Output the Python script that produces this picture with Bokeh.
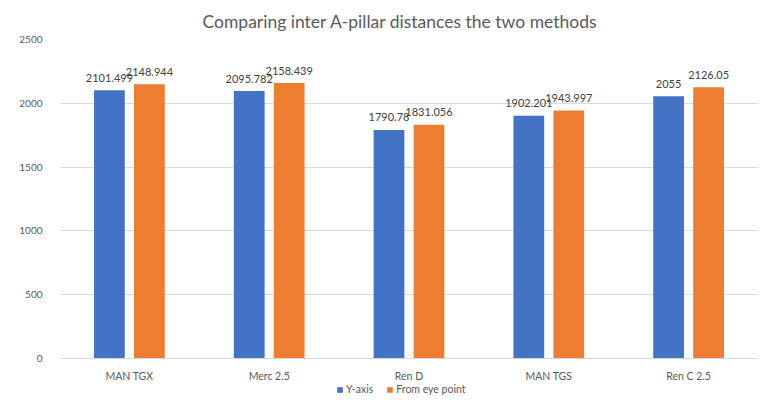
from bokeh.plotting import figure
from bokeh.layouts import column
from bokeh.models import ColumnDataSource, FactorRange, Range1d, FixedTicker, Legend, LegendItem
from bokeh.transform import dodge
from bokeh.core.properties import value
from bokeh.embed import file_html
from bokeh.resources import INLINE

categories = ["MAN TGX", "Merc 2.5", "Ren D", "MAN TGS", "Ren C 2.5"]
y_axis_vals = [2101.499, 2095.782, 1790.78, 1902.201, 2055]
eye_point_vals = [2148.944, 2158.439, 1831.056, 1943.997, 2126.05]
y_axis_labels = ["2101.499", "2095.782", "1790.78", "1902.201", "2055"]
eye_point_labels = ["2148.944", "2158.439", "1831.056", "1943.997", "2126.05"]
y_ticks = [0, 500, 1000, 1500, 2000, 2500]
title_text = "Comparing inter A-pillar distances the two methods"
series_names = ["Y-axis", "From eye point"]

FONT = "Lato"
BLUE = "#4472C4"
ORANGE = "#ED7D31"
GRID = "#D9D9D9"
TXT = "#595959"

src = ColumnDataSource(dict(cat=categories, ya=y_axis_vals, ep=eye_point_vals,
                            yal=y_axis_labels, epl=eye_point_labels))

p = figure(width=758, height=384, output_backend="svg", toolbar_location=None,
           x_range=FactorRange(*categories), y_range=Range1d(0, 2500),
           title=title_text,
           min_border_left=59, min_border_right=0, min_border_top=38, min_border_bottom=20)
p.outline_line_color = None
p.background_fill_color = "white"
p.border_fill_color = "white"

p.title.align = "left"
p.title.offset = 143
p.title.standoff = 16
p.title.text_font = FONT
p.title.text_font_style = "normal"
p.title.text_font_size = "17.5px"
p.title.text_color = TXT

p.vbar(x=dodge("cat", -0.143, range=p.x_range), top="ya", width=0.22, source=src,
       fill_color=BLUE, line_color=None)
p.vbar(x=dodge("cat", 0.143, range=p.x_range), top="ep", width=0.22, source=src,
       fill_color=ORANGE, line_color=None)

p.text(x=dodge("cat", -0.143, range=p.x_range), y="ya", text="yal", source=src,
       text_align="center", text_baseline="middle", y_offset=-12.5,
       text_font=value(FONT), text_font_size="11px", text_color="#404040")
p.text(x=dodge("cat", 0.143, range=p.x_range), y="ep", text="epl", source=src,
       text_align="center", text_baseline="middle", y_offset=-12.5,
       text_font=value(FONT), text_font_size="11px", text_color="#404040")

p.xgrid.grid_line_color = None
p.ygrid.grid_line_color = GRID
p.ygrid.grid_line_width = 1
p.yaxis.ticker = FixedTicker(ticks=y_ticks)
p.yaxis.axis_line_color = None
p.yaxis.major_tick_line_color = None
p.yaxis.minor_tick_line_color = None
p.yaxis.major_label_standoff = 11
p.yaxis.major_label_text_font = FONT
p.yaxis.major_label_text_font_size = "10px"
p.yaxis.major_label_text_color = TXT

p.xaxis.axis_line_color = GRID
p.xaxis.major_tick_line_color = None
p.xaxis.minor_tick_line_color = None
p.xaxis.major_label_standoff = 5
p.xaxis.major_label_text_font = FONT
p.xaxis.major_label_text_font_size = "10.5px"
p.xaxis.major_label_text_color = TXT

# legend strip below the chart
pl = figure(width=758, height=11, output_backend="svg", toolbar_location=None,
            x_range=Range1d(0, 1), y_range=Range1d(0, 1),
            min_border_left=0, min_border_right=0, min_border_top=0, min_border_bottom=0)
pl.axis.visible = False
pl.grid.visible = False
pl.outline_line_color = None
pl.border_fill_color = "white"
lr1 = pl.vbar(x=[0], top=[0], width=0, fill_color=BLUE, line_color=None)
lr2 = pl.vbar(x=[0], top=[0], width=0, fill_color=ORANGE, line_color=None)
legend = Legend(items=[LegendItem(label=series_names[0], renderers=[lr1]),
                       LegendItem(label=series_names[1], renderers=[lr2])],
                location=(277, 0), orientation="horizontal",
                glyph_width=7, glyph_height=7, label_standoff=3, spacing=13,
                padding=0, margin=0, border_line_color=None, background_fill_alpha=0,
                label_text_font=FONT, label_text_font_size="10.5px", label_text_color=TXT,
                label_height=11)
pl.add_layout(legend)

layout = column(p, pl, spacing=0)
open("out.html", "w").write(file_html(layout, INLINE))
